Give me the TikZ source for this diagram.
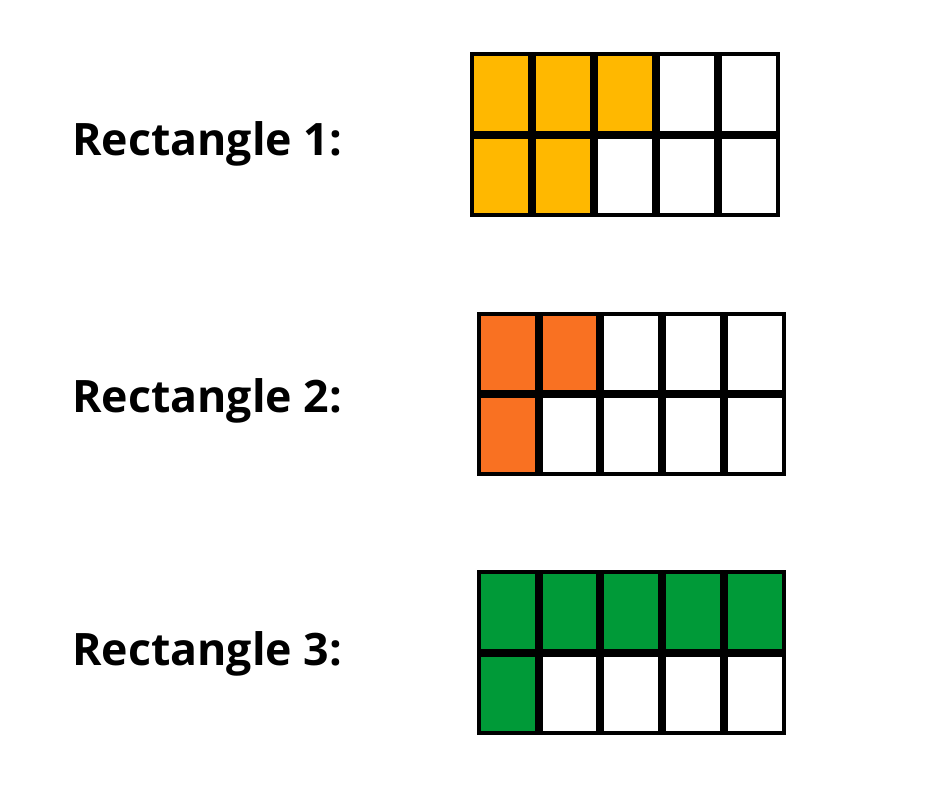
\documentclass[tikz,border=0pt]{standalone}
\usepackage{fontspec}
\setmainfont{Open Sans}
\definecolor{cyellow}{HTML}{FFB800}
\definecolor{corange}{HTML}{F97122}
\definecolor{cgreen}{HTML}{009A38}
\tikzset{
  lbl/.style={anchor=base west, inner sep=0pt, font=\fontsize{44.7}{50}\selectfont\bfseries},
  cell/.style={draw=black, line width=4pt},
}
% grid macro: #1 left, #2 top, #3 cell width, #4 cell height, #5 number filled top, #6 number filled bottom, #7 colour
\newcommand{\mygrid}[7]{%
  \foreach \c in {0,...,4}{
    \pgfmathsetmacro{\xa}{#1+\c*#3+2}
    \pgfmathsetmacro{\xb}{#1+(\c+1)*#3-2}
    \pgfmathsetmacro{\ya}{#2+2}
    \pgfmathsetmacro{\yb}{#2+#4-2}
    \pgfmathsetmacro{\yc}{#2+#4+2}
    \pgfmathsetmacro{\yd}{#2+2*#4-2}
    \ifnum\c<#5 \def\fa{#7}\else\def\fa{white}\fi
    \ifnum\c<#6 \def\fb{#7}\else\def\fb{white}\fi
    \draw[cell, fill=\fa] (\xa,\ya) rectangle (\xb,\yb);
    \draw[cell, fill=\fb] (\xa,\yc) rectangle (\xb,\yd);
  }%
}
\begin{document}
\begin{tikzpicture}[x=1pt,y=-1pt]
\useasboundingbox (0,0) rectangle (940,788);
\node[lbl] (l1) at (72,155) {Rectangle 1:};
\node[lbl] (l2) at (72,412) {Rectangle 2:};
\node[lbl] (l3) at (72,665) {Rectangle 3:};
\mygrid{470}{52}{62}{82.5}{3}{2}{cyellow}
\mygrid{476.7}{311.7}{61.8}{82.2}{2}{1}{corange}
\mygrid{476.7}{570}{61.8}{82.5}{5}{1}{cgreen}
\end{tikzpicture}
\end{document}
